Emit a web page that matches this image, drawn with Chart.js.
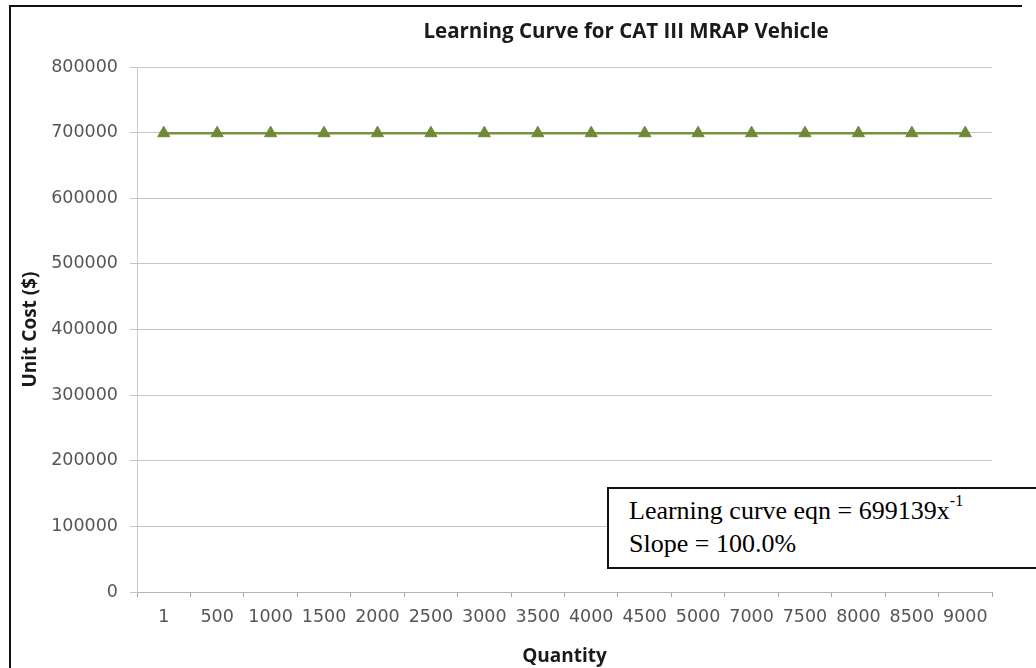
<!DOCTYPE html>
<html>
<head>
  <title>Learning Curve for CAT III MRAP Vehicle</title>
  <script src="https://cdn.jsdelivr.net/npm/chart.js"></script>
  <style>
    html, body { margin: 0; padding: 0; background: #fff; }
    #wrap { position: relative; width: 1036px; height: 668px; overflow: hidden; }
    #frame {
      position: absolute; left: 9px; top: 5px; width: 1011px; height: 700px;
      border-top: 2px solid #111; border-left: 2px solid #111;
    }
    #eqnBox {
      position: absolute; left: 607px; top: 487px; width: 460px; height: 82px;
      border: 2px solid #111; background: #fff;
      font-family: "Liberation Serif", serif; font-size: 26px; line-height: 33px;
      padding: 0 0 0 20px; box-sizing: border-box; color: #000;
    }
    #eqnBox div { margin-top: -2px; }
    #eqnBox sup { font-size: 16px; position: relative; top: -3px; }
  </style>
</head>
<body>
  <div id="wrap">
    <div id="frame"></div>
    <canvas id="lcChart" width="1036" height="668"></canvas>
    <div id="eqnBox"><div>
      Learning curve eqn = 699139x<sup>-1</sup><br>
      Slope = 100.0%
    </div></div>
  </div>

  <script>
    // values
    const quantities = ['1', '500', '1000', '1500', '2000', '2500', '3000', '3500',
                        '4000', '4500', '5000', '7000', '7500', '8000', '8500', '9000'];
    const unitCost = [699139, 699139, 699139, 699139, 699139, 699139, 699139, 699139,
                      699139, 699139, 699139, 699139, 699139, 699139, 699139, 699139];
    const costTicks = [0, 100000, 200000, 300000, 400000, 500000, 600000, 700000, 800000];

    const chartTitle = 'Learning Curve for CAT III MRAP Vehicle';

    // title sits right of the plot centre, like the cropped Excel chart
    const titlePlugin = {
      id: 'topTitle',
      afterDraw(chart) {
        const ctx = chart.ctx;
        ctx.save();
        ctx.font = 'bold 20.5px "Open Sans"';
        ctx.fillStyle = '#1a1a1a';
        ctx.textAlign = 'center';
        ctx.textBaseline = 'middle';
        ctx.fillText(chartTitle, 626, 32);
        ctx.restore();
      }
    };

    const tickFont = { family: 'DejaVu Sans', size: 17.5 };
    const titleFont = { family: 'Open Sans', size: 19, weight: 'bold' };

    new Chart(document.getElementById('lcChart'), {
      type: 'line',
      data: {
        labels: quantities,
        datasets: [{
          label: 'Unit Cost',
          data: unitCost,
          borderColor: '#77933c',
          borderWidth: 2.5,
          pointStyle: 'triangle',
          pointRadius: 7,
          pointBackgroundColor: '#6e8a36',
          pointBorderColor: '#6e8a36',
          pointBorderWidth: 1,
          tension: 0
        }]
      },
      options: {
        responsive: false,
        animation: false,
        layout: { padding: { left: 12, right: 44, top: 67, bottom: 0 } },
        plugins: {
          legend: { display: false },
          tooltip: { enabled: false }
        },
        scales: {
          x: {
            offset: true,
            grid: { drawOnChartArea: false, offset: true, tickLength: 5, color: '#a8a8a8' },
            border: { color: '#b4b4b4' },
            ticks: { font: tickFont, color: '#555', padding: 10, autoSkip: false, maxRotation: 0 },
            title: { display: true, text: 'Quantity', font: titleFont, color: '#1a1a1a', padding: { top: 0, bottom: 0 } },
            afterFit(scale) { scale.height = 76; }
          },
          y: {
            min: costTicks[0],
            max: costTicks[costTicks.length - 1],
            ticks: { stepSize: costTicks[1] - costTicks[0], font: tickFont, color: '#555', padding: 12,
                     callback: v => String(v) },
            grid: { color: '#c4c4c4', tickLength: 7 },
            border: { color: '#c8c8c8' },
            title: { display: true, text: 'Unit Cost ($)', font: titleFont, color: '#1a1a1a', padding: { top: 7, bottom: 0 } },
            afterFit(scale) { scale.width = 125; }
          }
        }
      },
      plugins: [titlePlugin]
    });
  </script>
</body>
</html>
